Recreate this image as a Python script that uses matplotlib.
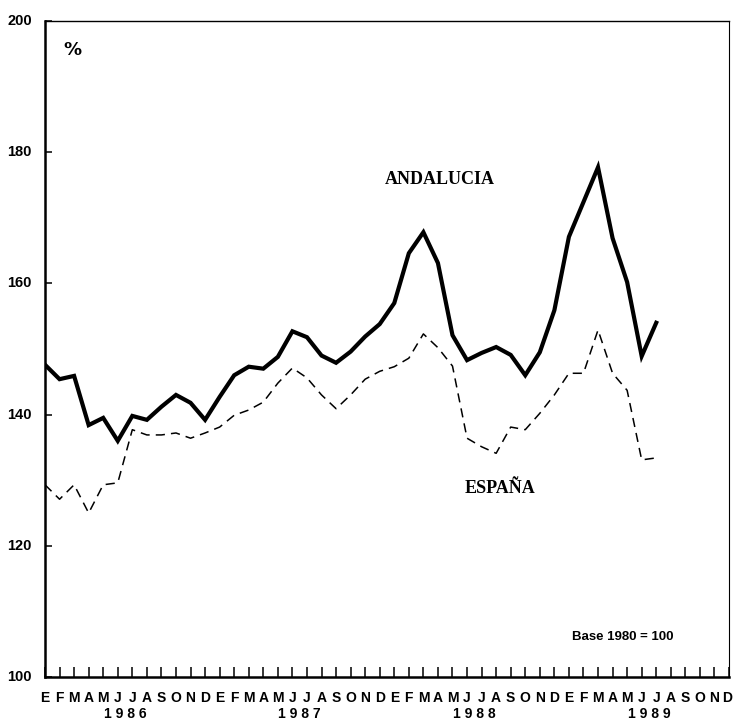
import matplotlib.pyplot as plt
import numpy as np

# Indices mensuales (base 1980 = 100), enero 1986 - julio 1989
month_letters = ['E', 'F', 'M', 'A', 'M', 'J', 'J', 'A', 'S', 'O', 'N', 'D']
years = ['1986', '1987', '1988', '1989']

andalucia = [147.6, 145.4, 145.9, 138.4, 139.5, 136.0, 139.8, 139.2, 141.2, 143.0, 141.8, 139.2,
             142.7, 146.0, 147.3, 147.0, 148.8, 152.7, 151.8, 149.0, 147.9, 149.6, 151.9, 153.8,
             157.0, 164.6, 167.8, 163.1, 152.1, 148.3, 149.4, 150.3, 149.1, 146.0, 149.5, 155.9,
             167.1, 172.4, 177.7, 166.9, 160.2, 148.9, 154.0]

espana = [129.3, 127.1, 129.3, 125.0, 129.3, 129.6, 137.7, 136.9, 136.9, 137.2, 136.4, 137.2,
          138.1, 139.9, 140.7, 141.9, 144.8, 147.1, 145.6, 143.0, 140.9, 143.0, 145.4, 146.6,
          147.3, 148.6, 152.3, 150.2, 147.4, 136.4, 135.1, 134.1, 138.1, 137.7, 140.2, 143.0,
          146.3, 146.3, 152.9, 146.3, 143.7, 133.1, 133.4]

y_ticks = [100, 120, 140, 160, 180, 200]

tick_font = ['Liberation Sans', 'DejaVu Sans']

fig = plt.figure(figsize=(7.33, 7.26), dpi=100)
# eje x: 47 meses entre x=45 px y x=729 px
ax = fig.add_axes([45 / 733, 1 - 677 / 726, 684 / 733, 656 / 726])

x_a = np.arange(len(andalucia))
x_e = np.arange(len(espana))

ax.plot(x_a, andalucia, color='black', linewidth=3.0, solid_joinstyle='miter')
ax.plot(x_e, espana, color='black', linewidth=1.1, dashes=(6, 4))

ax.set_xlim(0, 47)
ax.set_ylim(100, 200)

# ejes
for side in ['left', 'bottom']:
    ax.spines[side].set_linewidth(1.8)
ax.spines['top'].set_linewidth(1.0)
ax.spines['right'].set_linewidth(0.8)

ax.set_xticks(np.arange(48))
ax.set_xticklabels([])
ax.tick_params(axis='x', direction='in', length=7, width=1.1)

ax.set_yticks(y_ticks)
ax.set_yticklabels([])
ax.tick_params(axis='y', direction='in', length=5, width=1.1)

for v in y_ticks:
    ax.text(-0.9, v, str(v), ha='right', va='center', fontsize=10.5,
            fontweight='bold', family=tick_font, clip_on=False)

# etiquetas de meses y años
for i in range(48):
    ax.text(i - (0.12 if i == 47 else 0), 96.8, month_letters[i % 12], ha='center',
            va='center', fontsize=10, fontweight='bold', family=tick_font, clip_on=False)
for k, yr in enumerate(years):
    ax.text(5.5 + 12 * k, 94.3, ' '.join(yr), ha='center', va='center', fontsize=10,
            fontweight='bold', family=tick_font, clip_on=False)

ax.text(1.9, 195.6, '%', ha='center', va='center', fontsize=13, fontweight='bold',
        family=['DejaVu Sans'])
ax.text(27.1, 175.8, 'ANDALUCIA', ha='center', va='center', fontsize=13,
        fontweight='bold', family=['Liberation Serif', 'DejaVu Serif'])
ax.text(31.3, 128.8, 'ESPAÑA', ha='center', va='center', fontsize=13,
        fontweight='bold', family=['Liberation Serif', 'DejaVu Serif'])
ax.text(39.7, 106.1, 'Base 1980 = 100', ha='center', va='center', fontsize=9.5,
        fontweight='bold', family=tick_font)

fig.savefig('out.png', dpi=100)
